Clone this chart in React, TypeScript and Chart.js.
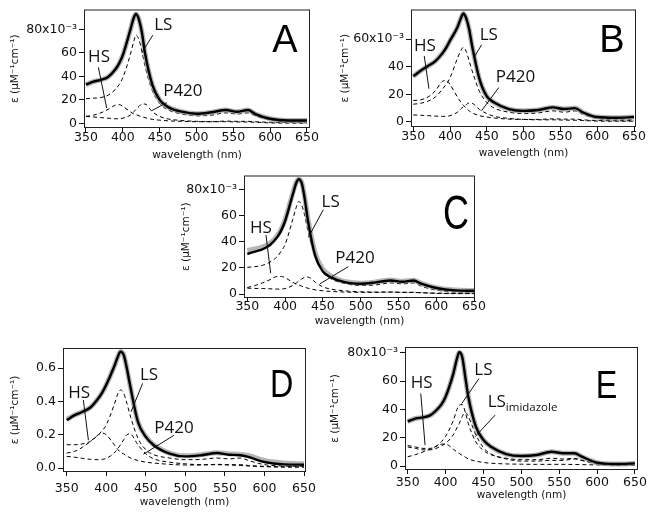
import React, { useEffect, useRef } from 'react';
import { Chart, registerables } from 'chart.js';
Chart.register(...registerables);

// ---------- data ----------
const wavelengths = [350, 360, 370, 380, 390, 395, 400, 410, 415, 418, 422, 426, 430, 440, 450, 460, 480, 500, 520, 540, 555, 570, 580, 600, 625, 650];
const xTickValues = [350, 400, 450, 500, 550, 600, 650];
const yTicksA = [0, 20, 40, 60, 80];
const yTicksB = [0, 20, 40, 60];
const yTicksC = [0, 20, 40, 60, 80];
const yTicksD = [0, 0.2, 0.4, 0.6];
const yTicksE = [0, 20, 40, 60, 80];

// Panel A (x10^-3)
const aFit = [33, 35.5, 37, 39.5, 46, 51, 58, 79, 90, 93, 88, 77, 60, 33, 20, 14.5, 10, 8.2, 9.5, 11.5, 10, 11.5, 8, 4, 2.5, 2.5];
const aObs = aFit;
const aLS = [21, 21.5, 22, 24, 29, 33, 39, 58, 70, 75, 71, 61, 49, 28, 17, 12, 8, 6.5, 7, 9, 8, 9, 6.5, 3, 1.5, 1.5];
const aHS = [6, 7, 9, 12, 15.5, 16, 14.5, 10, 8, 7.5, 6.5, 5.7, 5, 3.5, 2.8, 2.3, 1.8, 1.5, 1.5, 2, 1.8, 1.8, 1.5, 1, 0.8, 0.6];
const aP420 = [6, 5.5, 5, 4.5, 4, 4, 4.5, 7, 10, 12, 14.5, 16.5, 16.5, 10, 6, 4, 2.5, 1.8, 1.5, 1.5, 1.3, 1.2, 1, 0.5, 0.3, 0.3];

// Panel B
const bFit = [33, 37, 40.5, 44, 50, 54, 59, 68.5, 75.5, 78.5, 75, 67, 55, 31, 18.5, 14, 9.3, 8, 8.6, 10.5, 9.3, 10, 7, 3.5, 3, 3.5];
const bObs = bFit;
const bLS = [12.8, 13.5, 15, 18, 24, 27.5, 32, 46, 52, 54, 51, 44, 37, 22, 14, 10, 7, 6, 6.5, 8, 7, 8, 5.5, 2.5, 1.5, 1.5];
const bHS = [15.5, 16, 18, 22.5, 29.5, 30, 27, 18, 14, 12, 10, 8, 6.5, 4.5, 3.5, 2.8, 2, 1.8, 1.8, 2.2, 2, 2, 1.5, 1, 0.8, 0.8];
const bP420 = [5, 4.8, 4.5, 4.2, 4, 4, 4.5, 7, 9.5, 11, 12.5, 13.8, 13.5, 9, 6, 4, 2.5, 1.8, 1.5, 1.5, 1.3, 1.2, 1, 0.6, 0.5, 0.5];

// Panel C
const cFit = [30.7, 32.5, 34.3, 37.6, 44, 49, 56, 76, 85.5, 88, 85, 73, 57, 29, 17.3, 13, 8.9, 7.9, 8.9, 10.4, 9.4, 10.4, 7.9, 4.6, 2.8, 2.5];
const cObs = [33.5, 34.5, 36, 39, 45, 50, 57, 77, 86, 88, 85.5, 74, 58.5, 31, 19, 14, 9.5, 8.3, 9.2, 10.8, 9.8, 10.6, 8.2, 4.8, 3, 2.7];
const cLS = [20.5, 21, 22, 24.5, 29, 33, 38, 57, 67, 71, 68, 60, 49, 29, 18, 12, 8, 6.5, 7, 8.5, 7.8, 8.5, 6, 3, 1.5, 1.5];
const cHS = [5, 6.5, 8.5, 11, 13.5, 13.5, 12.5, 9, 7.5, 7, 6, 5.2, 4.5, 3.2, 2.5, 2, 1.5, 1.3, 1.3, 1.5, 1.3, 1.3, 1, 0.7, 0.5, 0.5];
const cP420 = [4.5, 4.3, 4.2, 4, 3.8, 3.8, 4.2, 6.5, 8.5, 10, 11.5, 12.8, 13, 9, 5.5, 3.8, 2.4, 1.7, 1.5, 1.5, 1.3, 1.2, 1, 0.5, 0.3, 0.3];

// Panel D
const dFit = [0.288, 0.318, 0.338, 0.364, 0.419, 0.455, 0.5, 0.61, 0.674, 0.7, 0.68, 0.6, 0.5, 0.278, 0.187, 0.137, 0.087, 0.07, 0.077, 0.09, 0.08, 0.077, 0.066, 0.036, 0.022, 0.02];
const dObs = [0.292, 0.318, 0.338, 0.364, 0.419, 0.455, 0.5, 0.61, 0.674, 0.7, 0.68, 0.6, 0.5, 0.278, 0.19, 0.14, 0.09, 0.073, 0.08, 0.092, 0.085, 0.082, 0.075, 0.045, 0.03, 0.025];
const dLS = [0.14, 0.14, 0.145, 0.16, 0.2, 0.225, 0.26, 0.38, 0.45, 0.47, 0.45, 0.39, 0.32, 0.18, 0.11, 0.08, 0.06, 0.05, 0.052, 0.06, 0.055, 0.06, 0.045, 0.02, 0.012, 0.01];
const dHS = [0.09, 0.1, 0.125, 0.16, 0.2, 0.21, 0.2, 0.14, 0.11, 0.095, 0.085, 0.072, 0.062, 0.045, 0.035, 0.03, 0.022, 0.018, 0.018, 0.022, 0.02, 0.02, 0.015, 0.01, 0.008, 0.008];
const dP420 = [0.07, 0.065, 0.058, 0.052, 0.05, 0.052, 0.058, 0.09, 0.12, 0.14, 0.17, 0.2, 0.205, 0.14, 0.085, 0.055, 0.035, 0.025, 0.02, 0.02, 0.018, 0.015, 0.012, 0.008, 0.005, 0.005];

// Panel E
const eFit = [31.5, 33.6, 34.4, 36, 40.7, 44, 49, 65, 76, 80.5, 77, 63, 49, 27.8, 18.4, 13.6, 8.5, 7.1, 7.8, 10.1, 9, 9, 6.6, 2.4, 1.4, 1.9];
const eObs = eFit;
const eLS = [14.5, 13.5, 12.5, 12.5, 15, 17.5, 21, 32, 40, 43, 43.5, 38, 30, 17, 11, 8, 5.5, 4.5, 4.5, 5.5, 5, 5.5, 4, 1.5, 0.8, 0.8];
const eLSim = [13.5, 12.5, 11.5, 11.5, 13, 14.5, 16, 22, 27, 30, 35, 38, 35, 22, 13, 8.5, 5, 3.5, 3.5, 4, 4, 5, 4, 2, 1, 1];
const eHS = [6.6, 8, 10, 12, 14.5, 15.5, 15.5, 12, 10, 9, 7.5, 6.3, 5, 3.5, 2.5, 2, 1.5, 1.3, 1.2, 1.2, 1.2, 1.1, 1, 0.8, 0.6, 0.6];

// ---------- layout / styling ----------
type Ann = { text: string; sub?: string; at: [number, number]; line: [[number, number], [number, number]] };
type PanelCfg = {
  id: string;
  canvas: [number, number, number, number];
  plot: [number, number, number, number];
  xRange: [number, number];
  yRange: [number, number];
  yTicks: number[];
  sci: boolean;
  fit: number[];
  obs: number[];
  comps: number[][];
  xTickPad: number;
  xTitlePad: number;
  yTitlePad: number;
  letterAt: [number, number];
  letterSize: number;
  letterScaleX: number;
  anns: Ann[];
};

const panels: PanelCfg[] = [
  {
    id: 'A', canvas: [0, 0, 325, 166], plot: [84, 5, 310, 128], xRange: [347.3, 654.1], yRange: [-3.85, 96.8],
    yTicks: yTicksA, sci: true, fit: aFit, obs: aObs, comps: [aLS, aHS, aP420], xTickPad: -2, xTitlePad: 4.7, yTitlePad: 9.2,
    letterAt: [620, 70.9], letterSize: 38, letterScaleX: 1,
    anns: [
      { text: 'HS', at: [367.7, 56.5], line: [[366.8, 47.7], [378.1, 13.1]] },
      { text: 'LS', at: [455, 83.2], line: [[440.7, 75], [425.7, 60]] },
      { text: 'P420', at: [481.5, 27.3], line: [[459.7, 17.7], [439.3, 10.9]] },
    ],
  },
  {
    id: 'B', canvas: [325, 0, 326, 166], plot: [411, 5, 636, 127], xRange: [346.9, 652.7], yRange: [-3.7, 81.4],
    yTicks: yTicksB, sci: true, fit: bFit, obs: bObs, comps: [bLS, bHS, bP420], xTickPad: -2, xTitlePad: 6.4, yTitlePad: 13.7,
    letterAt: [620, 59.3], letterSize: 38, letterScaleX: 1,
    anns: [
      { text: 'HS', at: [365.8, 54.7], line: [[364.9, 47.7], [371.3, 24]] },
      { text: 'LS', at: [452.7, 62.8], line: [[442.8, 55.8], [433.7, 47.7]] },
      { text: 'P420', at: [488.9, 32.6], line: [[466.3, 24.9], [442.8, 8.1]] },
    ],
  },
  {
    id: 'C', canvas: [160, 166, 330, 170], plot: [244, 175, 475, 298], xRange: [345.6, 651.3], yRange: [-3.05, 90.9],
    yTicks: yTicksC, sci: true, fit: cFit, obs: cObs, comps: [cLS, cHS, cP420], xTickPad: -3, xTitlePad: 8, yTitlePad: 20.4,
    letterAt: [626, 61.7], letterSize: 48, letterScaleX: 0.75,
    anns: [
      { text: 'HS', at: [368.1, 50.3], line: [[374.7, 45.2], [380.9, 16]] },
      { text: 'LS', at: [460.3, 70.6], line: [[450.6, 64.7], [430.7, 43.4]] },
      { text: 'P420', at: [492.5, 27.4], line: [[483.7, 21], [446.2, 7.9]] },
    ],
  },
  {
    id: 'D', canvas: [0, 336, 325, 177], plot: [63, 348, 306, 472], xRange: [345.3, 652.5], yRange: [-0.024, 0.7215],
    yTicks: yTicksD, sci: false, fit: dFit, obs: dObs, comps: [dLS, dHS, dP420], xTickPad: 5, xTitlePad: 4, yTitlePad: 8.7,
    letterAt: [621.8, 0.5], letterSize: 38, letterScaleX: 0.85,
    anns: [
      { text: 'HS', at: [365.6, 0.453], line: [[371, 0.409], [377.4, 0.167]] },
      { text: 'LS', at: [454, 0.56], line: [[446, 0.509], [431.3, 0.338]] },
      { text: 'P420', at: [485.7, 0.238], line: [[485.7, 0.197], [447, 0.083]] },
    ],
  },
  {
    id: 'E', canvas: [325, 336, 326, 177], plot: [405, 347, 638, 470], xRange: [346.4, 654], yRange: [-2.8, 84.2],
    yTicks: yTicksE, sci: true, fit: eFit, obs: eObs, comps: [eLS, eLSim, eHS], xTickPad: 1, xTitlePad: 11, yTitlePad: 3.7,
    letterAt: [612.6, 57.2], letterSize: 38, letterScaleX: 0.85,
    anns: [
      { text: 'HS', at: [368.5, 58.4], line: [[367.2, 51.3], [372.9, 14.8]] },
      { text: 'LS', at: [449.9, 67.8], line: [[444.1, 61.9], [421.3, 44.2]] },
      { text: 'LS', sub: 'imidazole', at: [467.5, 45.4], line: [[465.3, 36], [438.9, 20.7]] },
    ],
  },
];

const TICK_FONT = { family: 'DejaVu Sans', size: 12.5 };
const TITLE_FONT = { family: 'DejaVu Sans', size: 10.5 };
const INK = '#111';

const decorPlugin = {
  id: 'decor',
  afterDraw(chart: any, _args: any, opts: any) {
    const { ctx, chartArea } = chart;
    const xs = chart.scales.x;
    const ys = chart.scales.y;
    const p: PanelCfg = opts.panel;
    ctx.save();
    // frame
    ctx.strokeStyle = '#222';
    ctx.lineWidth = 1;
    ctx.strokeRect(chartArea.left + 0.5, chartArea.top + 0.5, chartArea.right - chartArea.left - 1, chartArea.bottom - chartArea.top - 1);
    // annotations
    ctx.fillStyle = INK;
    ctx.strokeStyle = INK;
    for (const a of p.anns) {
      const [p0, p1] = a.line;
      ctx.beginPath();
      ctx.moveTo(xs.getPixelForValue(p0[0]), ys.getPixelForValue(p0[1]));
      ctx.lineTo(xs.getPixelForValue(p1[0]), ys.getPixelForValue(p1[1]));
      ctx.stroke();
      const tx = xs.getPixelForValue(a.at[0]);
      const ty = ys.getPixelForValue(a.at[1]);
      ctx.font = '17px "Open Sans"';
      ctx.textBaseline = 'middle';
      if (a.sub) {
        const w = ctx.measureText(a.text).width;
        ctx.textAlign = 'center';
        ctx.fillText(a.text, tx, ty);
        ctx.font = '11.5px "Open Sans"';
        ctx.textAlign = 'left';
        ctx.fillText(a.sub, tx + w / 2, ty + 6);
      } else {
        ctx.textAlign = 'center';
        ctx.fillText(a.text, tx, ty);
      }
    }
    // panel letter
    const lx = xs.getPixelForValue(p.letterAt[0]);
    const ly = ys.getPixelForValue(p.letterAt[1]);
    ctx.translate(lx, ly);
    ctx.scale(p.letterScaleX, 1);
    ctx.font = `${p.letterSize}px "Liberation Sans"`;
    ctx.textAlign = 'center';
    ctx.textBaseline = 'middle';
    ctx.fillStyle = '#000';
    ctx.fillText(p.id, 0, 2);
    ctx.restore();
  },
};

function buildConfig(p: PanelCfg): any {
  const [cx, cy, cw, ch] = p.canvas;
  const [pl, pt, pr, pb] = p.plot;
  const pts = (vals: number[]) => wavelengths.map((w, i) => ({ x: w, y: vals[i] }));
  const datasets: any[] = [
    { data: pts(p.fit), borderColor: '#000', borderWidth: 2.4, order: 0 },
    { data: pts(p.obs), borderColor: 'rgba(150,150,150,0.7)', borderWidth: 5, order: 1 },
    ...p.comps.map((c, i) => ({ data: pts(c), borderColor: '#000', borderWidth: 1, borderDash: [4, 3], order: 2 + i })),
  ].map((d) => ({ ...d, pointRadius: 0, fill: false, cubicInterpolationMode: 'monotone' }));
  const topTick = p.yTicks[p.yTicks.length - 1];
  return {
    type: 'line',
    data: { datasets },
    options: {
      animation: false,
      responsive: false,
      devicePixelRatio: 1,
      events: [],
      layout: { padding: { left: 0, top: pt - cy, right: cx + cw - pr, bottom: 0 } },
      plugins: { legend: { display: false }, tooltip: { enabled: false }, decor: { panel: p } },
      scales: {
        x: {
          type: 'linear',
          min: p.xRange[0],
          max: p.xRange[1],
          afterFit: (s: any) => { s.height = cy + ch - pb; },
          afterBuildTicks: (s: any) => { s.ticks = xTickValues.map((v) => ({ value: v })); },
          grid: { display: true, drawOnChartArea: false, drawTicks: true, tickLength: 4, tickColor: INK, color: INK },
          border: { display: false },
          ticks: { autoSkip: false, maxRotation: 0, padding: p.xTickPad, color: INK, font: TICK_FONT },
          title: { display: true, text: 'wavelength (nm)', color: INK, font: TITLE_FONT, padding: { top: 0, bottom: p.xTitlePad } },
        },
        y: {
          type: 'linear',
          min: p.yRange[0],
          max: p.yRange[1],
          afterFit: (s: any) => { s.width = pl - cx; },
          afterBuildTicks: (s: any) => { s.ticks = p.yTicks.map((v) => ({ value: v })); },
          grid: { display: true, drawOnChartArea: false, drawTicks: true, tickLength: 5, tickColor: INK, color: INK },
          border: { display: false },
          ticks: {
            autoSkip: false,
            padding: 2,
            color: INK,
            font: TICK_FONT,
            callback: (v: number) => (p.sci ? (v === topTick ? `${v}x10⁻³` : `${v}`) : v.toFixed(1)),
          },
          title: { display: true, text: 'ε (μM⁻¹cm⁻¹)', color: INK, font: TITLE_FONT, padding: { top: p.yTitlePad, bottom: 0 } },
        },
      },
    },
    plugins: [decorPlugin],
  };
}

function Panel({ cfg }: { cfg: PanelCfg }) {
  const ref = useRef<HTMLCanvasElement>(null);
  useEffect(() => {
    const chart = new Chart(ref.current as HTMLCanvasElement, buildConfig(cfg));
    return () => chart.destroy();
  }, [cfg]);
  const [cx, cy, cw, ch] = cfg.canvas;
  return (
    <canvas
      ref={ref}
      width={cw}
      height={ch}
      style={{ position: 'absolute', left: cx, top: cy, width: cw, height: ch }}
    />
  );
}

export default function App() {
  return (
    <div style={{ position: 'absolute', left: 0, top: 0, width: 651, height: 513, background: '#fff', overflow: 'hidden' }}>
      {panels.map((p) => (
        <Panel key={p.id} cfg={p} />
      ))}
    </div>
  );
}
